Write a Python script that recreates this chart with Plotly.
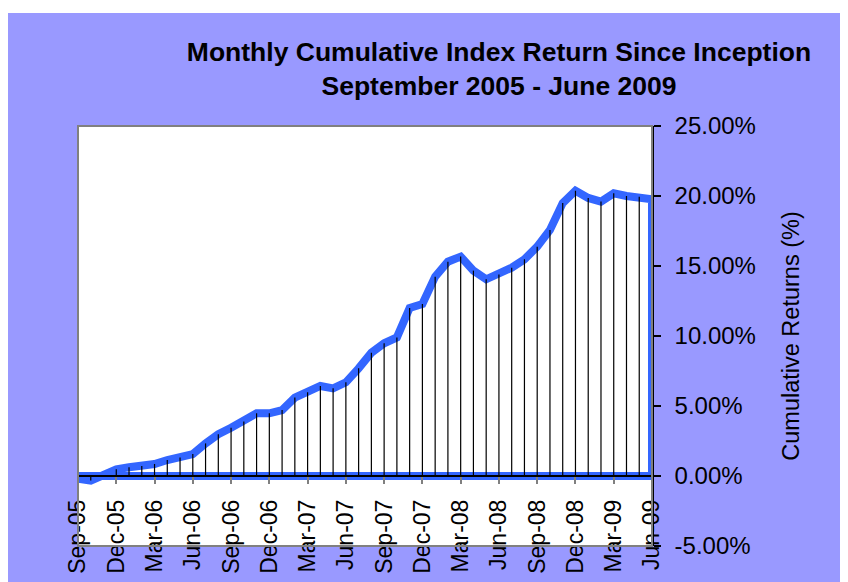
import plotly.graph_objects as go

# ---- data ----
months = ["Sep-05", "Oct-05", "Nov-05", "Dec-05", "Jan-06", "Feb-06", "Mar-06", "Apr-06",
          "May-06", "Jun-06", "Jul-06", "Aug-06", "Sep-06", "Oct-06", "Nov-06", "Dec-06",
          "Jan-07", "Feb-07", "Mar-07", "Apr-07", "May-07", "Jun-07", "Jul-07", "Aug-07",
          "Sep-07", "Oct-07", "Nov-07", "Dec-07", "Jan-08", "Feb-08", "Mar-08", "Apr-08",
          "May-08", "Jun-08", "Jul-08", "Aug-08", "Sep-08", "Oct-08", "Nov-08", "Dec-08",
          "Jan-09", "Feb-09", "Mar-09", "Apr-09", "May-09", "Jun-09"]
cum_return = [-0.20, -0.33, 0.07, 0.48, 0.62, 0.71, 0.86, 1.14, 1.33, 1.57, 2.33, 2.98,
              3.45, 3.90, 4.48, 4.48, 4.71, 5.60, 5.98, 6.43, 6.26, 6.69, 7.69, 8.81,
              9.48, 9.90, 12.00, 12.29, 14.24, 15.31, 15.67, 14.67, 14.05, 14.40, 14.88, 15.48,
              16.38, 17.57, 19.50, 20.38, 19.86, 19.60, 20.19, 20.00, 19.95, 19.76]
x_tick_labels = months[::3]
y_tick_vals = [-5, 0, 5, 10, 15, 20, 25]
y_tick_labels = ["-5.00%", "0.00%", "5.00%", "10.00%", "15.00%", "20.00%", "25.00%"]

FONT = "Liberation Sans, Arial, sans-serif"
BLUE = "#3366FF"
PURPLE = "#9999FF"

# plot-area geometry in figure pixels (page body adds an 8px offset)
W, H = 848, 582
L, R, T, B = 70, 644, 118, 538
PW, PH = R - L, B - T


def fx(px):
    return (px - L) / PW


def fy(py):
    return (B - py) / PH


fig = go.Figure()

# area outline: top line, down right edge, back along zero
outline_x = months + [months[-1], months[0], months[0]]
outline_y = cum_return + [0, 0, cum_return[0]]
fig.add_trace(go.Scatter(x=outline_x, y=outline_y, mode="lines",
                         line=dict(color=BLUE, width=8, shape="linear"),
                         hoverinfo="skip", showlegend=False, xaxis="x", yaxis="y"))

# drop lines
dx, dy = [], []
for m, v in zip(months, cum_return):
    dx += [m, m, None]
    dy += [0, v, None]
fig.add_trace(go.Scatter(x=dx, y=dy, mode="lines",
                         line=dict(color="black", width=1.2),
                         hoverinfo="skip", showlegend=False, xaxis="x2", yaxis="y"))

common_x = dict(type="category", categoryorder="array", categoryarray=months,
                range=[0, len(months) - 1], showgrid=False, zeroline=False,
                automargin=False)

fig.update_layout(
    width=W, height=H,
    margin=dict(l=L, r=W - R, t=T, b=H - B, pad=0, autoexpand=False),
    paper_bgcolor=PURPLE,
    plot_bgcolor="white",
    font=dict(family=FONT, color="black", size=24),
    title=dict(text="<b>Monthly Cumulative Index Return Since Inception<br>September 2005 - June 2009</b>",
               x=491 / W, xanchor="center", xref="container",
               y=1 - 53 / H, yanchor="top", yref="container", automargin=False,
               font=dict(family=FONT, size=26.5, color="black")),
    xaxis=dict(**common_x, anchor="free", position=fy(486),
               showline=False, ticks="", tickmode="array",
               tickvals=x_tick_labels, ticktext=x_tick_labels,
               tickangle=-90, tickfont=dict(size=23)),
    xaxis2=dict(**common_x, overlaying="x", anchor="free", position=fy(468),
                showline=True, linecolor="black", linewidth=1.5,
                ticks="outside", ticklen=7, tickcolor="#808080", tickwidth=1.5,
                tickmode="array", tickvals=x_tick_labels, showticklabels=False),
    yaxis=dict(range=[-5, 25], side="right", anchor="x", automargin=False,
               showline=True, linecolor="black", linewidth=1.5,
               ticks="outside", ticklen=7, tickcolor="black", tickwidth=1.5,
               tickmode="array", tickvals=y_tick_vals, ticktext=y_tick_labels,
               ticklabelstandoff=9, tickfont=dict(size=24),
               showgrid=False, zeroline=False,
               title=dict(text="Cumulative Returns (%)", standoff=28,
                          font=dict(size=23.5))),
    shapes=[
        dict(type="rect", xref="paper", yref="paper", x0=0, x1=1, y0=0, y1=1,
             line=dict(color="#808080", width=2), fillcolor="rgba(0,0,0,0)", layer="above"),
        dict(type="rect", xref="paper", yref="paper", x0=fx(-5), x1=fx(W + 5),
             y0=fy(5), y1=fy(-5), line=dict(width=0), fillcolor="white", layer="below"),
    ],
    showlegend=False,
)

fig.write_html("out.html")
